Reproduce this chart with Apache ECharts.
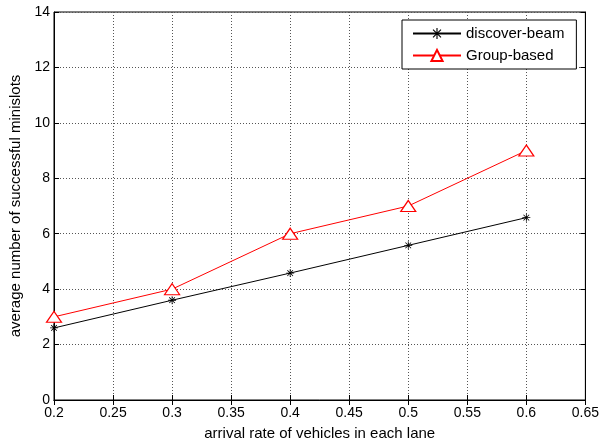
<!DOCTYPE html>
<html><head><meta charset="utf-8">
<script src="https://cdn.jsdelivr.net/npm/echarts@6/dist/echarts.min.js"></script>
<style>html,body{margin:0;padding:0;background:#fff}#c{width:602px;height:446px}</style>
</head><body><div id="c"></div>
<script>
const xValues = [0.2, 0.3, 0.4, 0.5, 0.6];
const discoverBeam = [2.6, 3.6, 4.58, 5.58, 6.58];
const groupBased = [3.0, 4.0, 6.0, 7.0, 9.0];
const seriesNames = ['discover-beam', 'Group-based'];
const xTitle = 'arrival rate of vehicles in each lane';
const yTitle = 'average number of successful minislots';

const star = 'path://M9,0L11,0L11,7.6L16.4,2.2L17.8,3.6L12.4,9L20,9L20,11L12.4,11L17.8,16.4L16.4,17.8L11,12.4L11,20L9,20L9,12.4L3.6,17.8L2.2,16.4L7.6,11L0,11L0,9L7.6,9L2.2,3.6L3.6,2.2L9,7.6Z';
const font = 'Liberation Sans, Arial, sans-serif';
const chart = echarts.init(document.getElementById('c'));
const gridLine = {show: true, lineStyle: {color: '#555', type: [1, 2], width: 1}};
const hidden = {show: false};
chart.setOption({
  animation: false,
  backgroundColor: '#fff',
  grid: {left: 54, right: 15, top: 12, bottom: 46, show: true, borderColor: '#000', borderWidth: 1, containLabel: false},
  legend: {
    left: 402, top: 20, orient: 'vertical', itemGap: 7, itemWidth: 48, itemHeight: 14,
    borderColor: '#000', borderWidth: 1, padding: [6, 12, 6, 10], backgroundColor: '#fff',
    textStyle: {fontFamily: font, fontSize: 15, color: '#000'},
    data: seriesNames
  },
  xAxis: [{
    type: 'value', min: 0.2, max: 0.65, interval: 0.05,
    name: xTitle, nameLocation: 'middle', nameGap: 26,
    nameTextStyle: {fontFamily: font, fontSize: 15, color: '#000'},
    axisLine: {show: true, onZero: false, lineStyle: {color: '#000'}},
    axisTick: {show: true, inside: true, length: 5, lineStyle: {color: '#000'}},
    axisLabel: {fontFamily: font, fontSize: 14, color: '#000', margin: 6,
      formatter: v => String(Math.round(v * 100) / 100)},
    splitLine: gridLine
  }, {
    type: 'value', position: 'top', min: 0.2, max: 0.65, interval: 0.05,
    axisLine: {show: true, lineStyle: {color: '#000'}},
    axisTick: {show: true, inside: true, length: 5, lineStyle: {color: '#000'}},
    axisLabel: hidden, splitLine: hidden
  }],
  yAxis: [{
    type: 'value', min: 0, max: 14, interval: 2,
    name: yTitle, nameLocation: 'middle', nameGap: 30,
    nameTextStyle: {fontFamily: font, fontSize: 15, color: '#000'},
    axisLine: {show: true, lineStyle: {color: '#000'}},
    axisTick: {show: true, inside: true, length: 5, lineStyle: {color: '#000'}},
    axisLabel: {fontFamily: font, fontSize: 14, color: '#000', margin: 4},
    splitLine: gridLine
  }, {
    type: 'value', position: 'right', min: 0, max: 14, interval: 2,
    axisLine: {show: true, lineStyle: {color: '#000'}},
    axisTick: {show: true, inside: true, length: 5, lineStyle: {color: '#000'}},
    axisLabel: hidden, splitLine: hidden
  }],
  series: [{
    name: seriesNames[0], type: 'line',
    data: xValues.map((x, i) => [x, discoverBeam[i]]),
    symbol: star, symbolSize: 8,
    lineStyle: {color: '#000', width: 1},
    itemStyle: {color: '#000'}
  }, {
    name: seriesNames[1], type: 'line',
    data: xValues.map((x, i) => [x, groupBased[i]]),
    symbol: 'triangle', symbolSize: [15, 11],
    lineStyle: {color: '#ff0000', width: 1},
    itemStyle: {color: '#fff', borderColor: '#ff0000', borderWidth: 1.2}
  }]
});
</script></body></html>
